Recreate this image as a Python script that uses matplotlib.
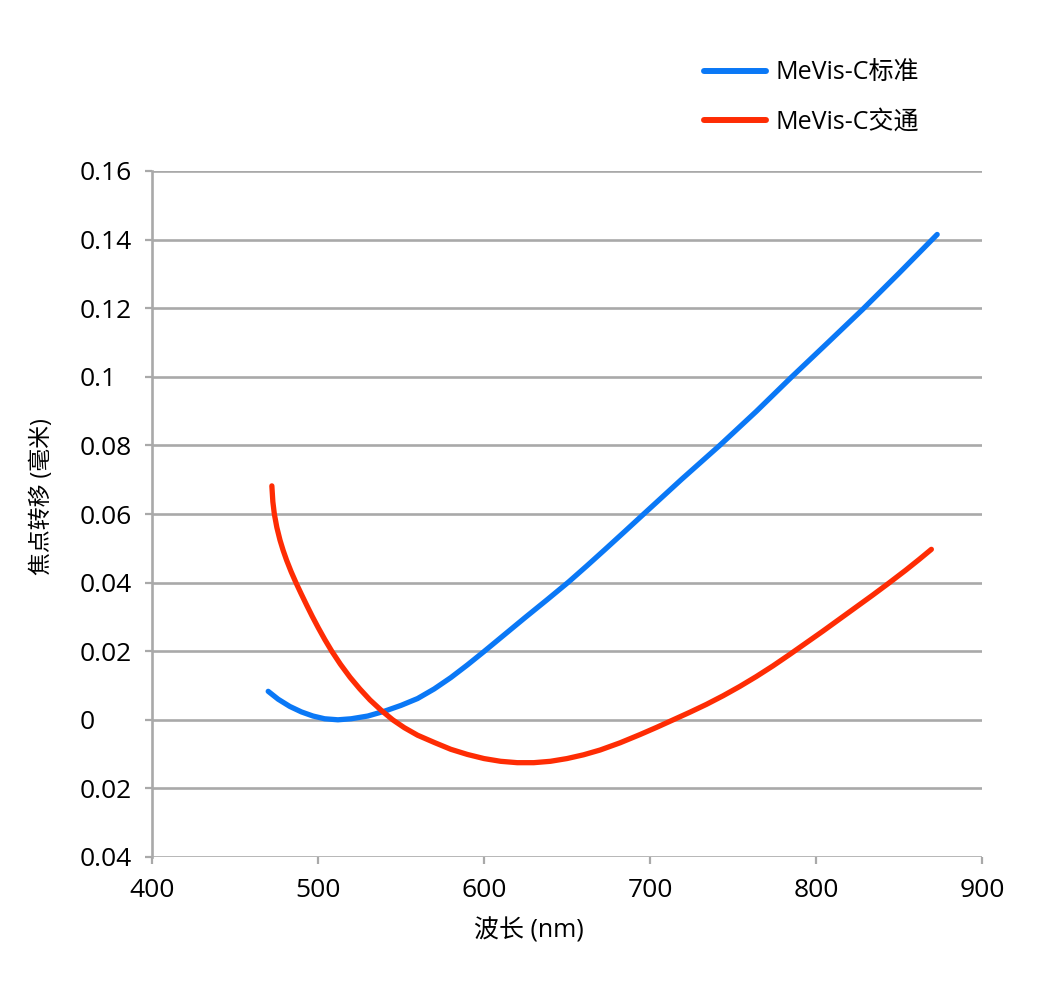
import matplotlib
matplotlib.use("Agg")
import matplotlib.pyplot as plt

plt.rcParams['font.family'] = ['Open Sans', 'Noto Sans CJK SC', 'DejaVu Sans']

# ---- data ----
series_names = ['MeVis-C标准', 'MeVis-C交通']

blue_x = [470, 476, 483, 490, 497, 504, 512, 520, 530, 540, 550, 560, 570, 580,
          590, 600, 612, 625, 638, 651, 662, 673, 685, 696, 719, 742, 764, 785,
          807, 828, 850, 873]
blue_y = [0.0083, 0.0060, 0.0039, 0.0023, 0.0011, 0.0003, 0.0, 0.0003, 0.0011,
          0.0025, 0.0042, 0.0062, 0.0090, 0.0123, 0.0160, 0.0199, 0.0247, 0.0299,
          0.0350, 0.0402, 0.0449, 0.0497, 0.0550, 0.0599, 0.0701, 0.0800, 0.0899,
          0.0998, 0.1099, 0.1196, 0.1302, 0.1415]

red_x = [472.2, 472.8, 473.7, 475.2, 477.1, 479.0, 481.1, 483.8, 486.7, 489.8,
         493.2, 496.6, 500.2, 504.1, 508.3, 513.5, 519.3, 525.2, 531.3, 538,
         545, 552, 560, 570, 580, 590, 600, 610, 620, 630, 640, 650, 660, 670,
         682, 694, 704, 714, 724, 734, 744, 754, 764, 774, 784, 794, 804, 814,
         824, 834, 844, 854, 862, 869.5]
red_y = [0.0682, 0.0636, 0.0600, 0.0561, 0.0524, 0.0494, 0.0465, 0.0432, 0.0400,
         0.0368, 0.0334, 0.0301, 0.0268, 0.0234, 0.0200, 0.0162, 0.0124, 0.0090,
         0.0058, 0.0028, 0.0, -0.0023, -0.0045, -0.0066, -0.0086, -0.0101,
         -0.0113, -0.0121, -0.0125, -0.0125, -0.0121, -0.0113, -0.0102, -0.0088,
         -0.0067, -0.0043, -0.0022, 0.0, 0.0022, 0.0045, 0.0070, 0.0097, 0.0126,
         0.0157, 0.0190, 0.0224, 0.0258, 0.0293, 0.0328, 0.0363, 0.0399, 0.0436,
         0.0467, 0.0497]

y_ticks = [-0.04, -0.02, 0, 0.02, 0.04, 0.06, 0.08, 0.1, 0.12, 0.14, 0.16]
y_tick_labels = ['0.04', '0.02', '0', '0.02', '0.04', '0.06', '0.08', '0.1',
                 '0.12', '0.14', '0.16']
x_ticks = [400, 500, 600, 700, 800, 900]
x_tick_labels = ['400', '500', '600', '700', '800', '900']

x_label = '波长 (nm)'
y_label = '焦点转移 (毫米)'

# ---- figure ----
W, H = 1060, 990
fig = plt.figure(figsize=(W / 100, H / 100), dpi=100)
ax = fig.add_axes([152 / W, 1 - 857 / H, (982 - 152) / W, (857 - 171) / H])

grid_c = '#a9a9a9'
ax.set_xlim(400, 900)
ax.set_ylim(-0.04, 0.16)
for yv in y_ticks:
    ax.axhline(yv, color=grid_c, lw=1.9, zorder=1)

ax.plot(blue_x, blue_y, color='#0a78f6', lw=3.8, solid_capstyle='round',
        solid_joinstyle='round', label=series_names[0], zorder=3)
ax.plot(red_x, red_y, color='#fe2c04', lw=3.8, solid_capstyle='round',
        solid_joinstyle='round', label=series_names[1], zorder=3)

for s in ['top', 'right', 'bottom']:
    ax.spines[s].set_visible(False)
ax.spines['left'].set_color(grid_c)
ax.spines['left'].set_linewidth(1.9)

ax.set_yticks(y_ticks)
ax.set_yticklabels(y_tick_labels, fontsize=19)
ax.set_xticks(x_ticks)
ax.set_xticklabels(x_tick_labels, fontsize=19)
ax.tick_params(axis='y', length=5, width=1.6, color=grid_c, pad=47)
ax.tick_params(axis='x', length=5, width=1.6, color=grid_c, pad=10)
for lab in ax.get_yticklabels():
    lab.set_horizontalalignment('left')

fig.text(529 / W, 1 - 931 / H, x_label, fontsize=18, ha='center', va='center')
fig.text(42 / W, 1 - 497 / H, y_label, fontsize=16.5, ha='center', va='center',
         rotation=90)

fig.legend(loc='upper left', bbox_to_anchor=(681 / W, 1 - 38 / H),
           frameon=False, fontsize=18, handlelength=2.5, handletextpad=0.4,
           labelspacing=0.95)
for ln in fig.legends[0].get_lines():
    ln.set_linewidth(4.3)

fig.savefig('out.png', dpi=100)
